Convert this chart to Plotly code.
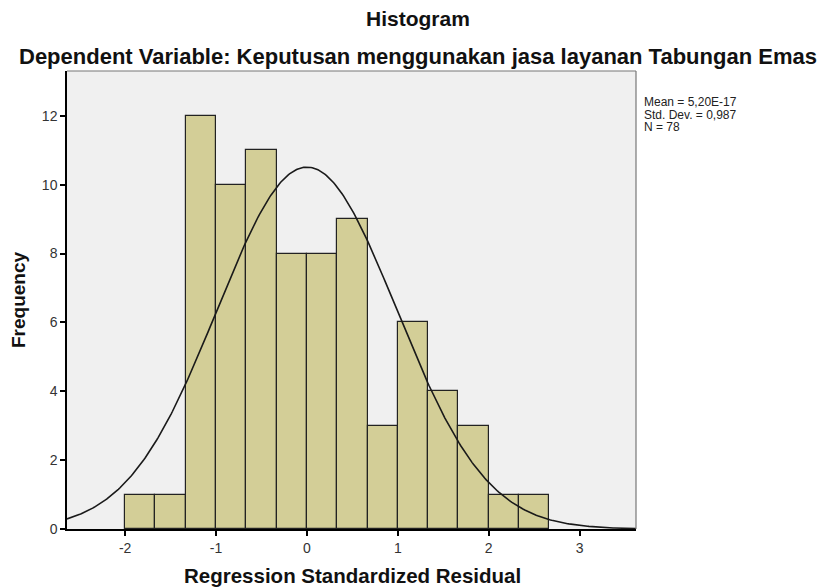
import numpy as np
import plotly.graph_objects as go

# Data
bin_starts = [-2.0, -5/3, -4/3, -1.0, -2/3, -1/3, 0.0, 1/3, 2/3, 1.0, 4/3, 5/3, 2.0, 7/3]
frequencies = [1, 1, 12, 10, 11, 8, 8, 9, 3, 6, 4, 3, 1, 1]
bin_width = 1/3
mean_val = 5.20e-17
std_val = 0.987
n_val = 78
x_ticks = [-2, -1, 0, 1, 2, 3]
y_ticks = [0, 2, 4, 6, 8, 10, 12]
stats_lines = ["Mean = 5,20E-17", "Std. Dev. = 0,987", "N = 78"]

x_range = [-2.64, 3.62]
y_range = [0, 13.3]

centers = [s + bin_width / 2 for s in bin_starts]

xs = np.linspace(x_range[0], x_range[1], 400)
curve = n_val * bin_width * np.exp(-0.5 * ((xs - mean_val) / std_val) ** 2) / (std_val * np.sqrt(2 * np.pi))

fig = go.Figure()
fig.add_trace(go.Bar(
    x=centers, y=frequencies, width=[bin_width] * len(centers),
    marker=dict(color="#d3ce97", line=dict(color="#222222", width=1.2)),
    hoverinfo="x+y", showlegend=False,
))
fig.add_trace(go.Scatter(
    x=xs, y=curve, mode="lines",
    line=dict(color="#1a1a1a", width=1.6), showlegend=False,
))

font_fam = "Liberation Sans, Arial, sans-serif"

# page body has an 8px margin; work in reference pixel coords and offset
OFF = 8
W, H = 828 - OFF, 588 - OFF
L = 67 - OFF
T = 71 - OFF
R = W - (636 - OFF)
B = H - (529 - OFF)
pw, ph = W - L - R, H - T - B

def px(xpix):
    return (xpix - OFF - L) / pw

def py(ypix):
    return (H - B - (ypix - OFF)) / ph

annotations = [
    dict(text="<b>Histogram</b>", xref="paper", yref="paper",
         x=px(418), y=py(18), xanchor="center", yanchor="middle", showarrow=False,
         font=dict(size=21, color="#111")),
    dict(text="<b>Dependent Variable: Keputusan menggunakan jasa layanan Tabungan Emas</b>",
         xref="paper", yref="paper",
         x=px(418), y=py(56), xanchor="center", yanchor="middle", showarrow=False,
         font=dict(size=22, color="#111")),
    dict(text="<b>Frequency</b>", xref="paper", yref="paper",
         x=px(18), y=py(300), xanchor="center", yanchor="middle", showarrow=False,
         textangle=-90, font=dict(size=19, color="#111")),
    dict(text="<b>Regression Standardized Residual</b>", xref="paper", yref="paper",
         x=px(352), y=py(575), xanchor="center", yanchor="middle", showarrow=False,
         font=dict(size=20.5, color="#111")),
]
for i, line in enumerate(stats_lines):
    annotations.append(dict(
        text=line, xref="paper", yref="paper",
        x=px(642), y=py(102 + 12.5 * i), xanchor="left", yanchor="middle",
        showarrow=False, font=dict(size=12, color="#222")))

fig.update_layout(
    width=W, height=H,
    margin=dict(l=L, r=R, t=T, b=B),
    paper_bgcolor="white", plot_bgcolor="#f0f0f0",
    bargap=0,
    font=dict(family=font_fam, size=12, color="#222"),
    xaxis=dict(
        range=x_range, tickvals=x_ticks, ticktext=[str(v) for v in x_ticks],
        showgrid=False, zeroline=False, automargin=False,
        showline=True, linecolor="#000", linewidth=1.5,
        ticks="outside", ticklen=5, tickcolor="#000", tickwidth=1.5,
        tickfont=dict(size=14, color="#333"),
    ),
    yaxis=dict(
        range=y_range, tickvals=y_ticks, ticktext=[str(v) for v in y_ticks],
        showgrid=False, zeroline=False, automargin=False,
        showline=True, linecolor="#000", linewidth=1.5,
        ticks="outside", ticklen=5, tickcolor="#000", tickwidth=1.5,
        tickfont=dict(size=14, color="#333"),
    ),
    shapes=[
        dict(type="line", xref="paper", yref="paper", x0=0, x1=1, y0=1, y1=1,
             line=dict(color="#777", width=1.2)),
        dict(type="line", xref="paper", yref="paper", x0=1, x1=1, y0=0, y1=1,
             line=dict(color="#777", width=1.2)),
    ],
    annotations=annotations,
)

fig.write_html("out.html")
